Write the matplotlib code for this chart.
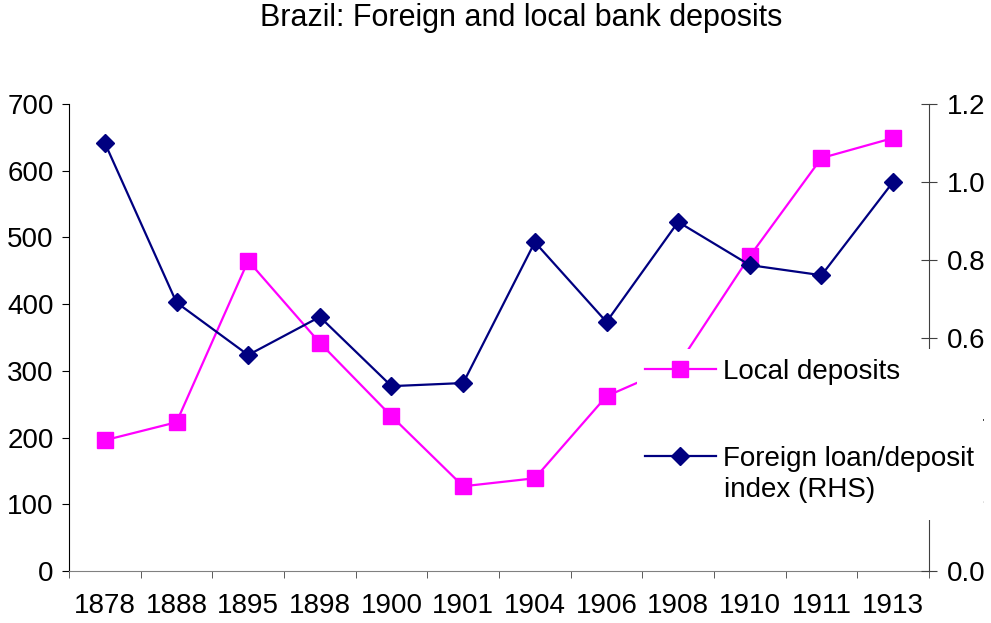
import matplotlib
matplotlib.use("Agg")
import matplotlib.pyplot as plt
from matplotlib.patches import Rectangle
import numpy as np

plt.rcParams['font.family'] = ['Liberation Sans', 'DejaVu Sans']

years = ["1878", "1888", "1895", "1898", "1900", "1901", "1904", "1906", "1908", "1910", "1911", "1913"]
local_deposits = [196, 223, 465, 342, 232, 127, 139, 262, 309, 472, 619, 649]
foreign_index = [1.10, 0.69, 0.555, 0.653, 0.475, 0.483, 0.845, 0.64, 0.897, 0.786, 0.76, 1.0]
left_ticks = [0, 100, 200, 300, 400, 500, 600, 700]
right_ticks = [0.0, 0.2, 0.4, 0.6, 0.8, 1.0, 1.2]
legend_labels = ["Local deposits", "Foreign loan/deposit", "index (RHS)"]

W, H = 991, 623
fig = plt.figure(figsize=(W/100, H/100), dpi=100)
ax = fig.add_axes([69/W, 1-571/H, (929-69)/W, (571-104)/H])
ax2 = ax.twinx()

x = np.arange(len(years))
l1, = ax.plot(x, local_deposits, color='#FF00FF', lw=1.6, marker='s', ms=12,
              mfc='#FF00FF', mec='#FF00FF', label=legend_labels[0], zorder=3)
l2, = ax2.plot(x, foreign_index, color='#000080', lw=1.6, marker='D', ms=8.8,
               mfc='#000080', mec='#000080', label=legend_labels[1], zorder=3)

ax.set_xlim(-0.5, len(years) - 0.5)
ax.set_ylim(0, 700)
ax2.set_ylim(0, 1.2)
ax.set_yticks(left_ticks)
ax.set_yticklabels([str(v) for v in left_ticks])
ax2.set_yticks(right_ticks)
ax2.set_yticklabels([f"{v:.1f}" for v in right_ticks])
ax.set_xticks(x)
ax.set_xticklabels(years)
ax.set_xticks(np.arange(-0.5, len(years)), minor=True)

fs = 20
ax.tick_params(axis='x', which='major', length=0, labelsize=fs, pad=16)
ax.tick_params(axis='x', which='minor', length=5, direction='out', color='#404040')
ax.tick_params(axis='y', which='major', length=5, direction='out', labelsize=fs, pad=6)
ax2.tick_params(axis='y', which='major', length=11.5, direction='inout', labelsize=fs, pad=7, color='#404040')

for a in (ax, ax2):
    a.spines['top'].set_visible(False)
ax.spines['bottom'].set_color('#808080')
ax.spines['left'].set_color('black')
ax2.spines['right'].set_color('#404040')
ax2.spines['bottom'].set_visible(False)
ax2.spines['left'].set_visible(False)
ax.spines['right'].set_visible(False)

fig.text(521/W, 1 - 18/H, "Brazil: Foreign and local bank deposits", ha='center', va='center', fontsize=22)

# white legend background covering part of the right axis, as in the reference
bg = Rectangle((637/W, 1-520/H), (983-637)/W, (520-349)/H, transform=fig.transFigure,
               facecolor='white', edgecolor='none', zorder=9, clip_on=False)
ax2.add_patch(bg)

leg = ax2.legend(handles=[l1, l2], loc='upper left', bbox_to_anchor=(645/W, 1-359/H),
                 bbox_transform=fig.transFigure, frameon=False, fontsize=fs,
                 handlelength=2.55, handletextpad=0.25, labelspacing=2.2,
                 borderpad=0, borderaxespad=0)
leg.set_zorder(10)

# second line of the foreign series legend label
fig.text(724/W, 1 - 490/H, legend_labels[2], ha='left', va='center', fontsize=fs, zorder=11)

fig.savefig("out.png", dpi=100)
